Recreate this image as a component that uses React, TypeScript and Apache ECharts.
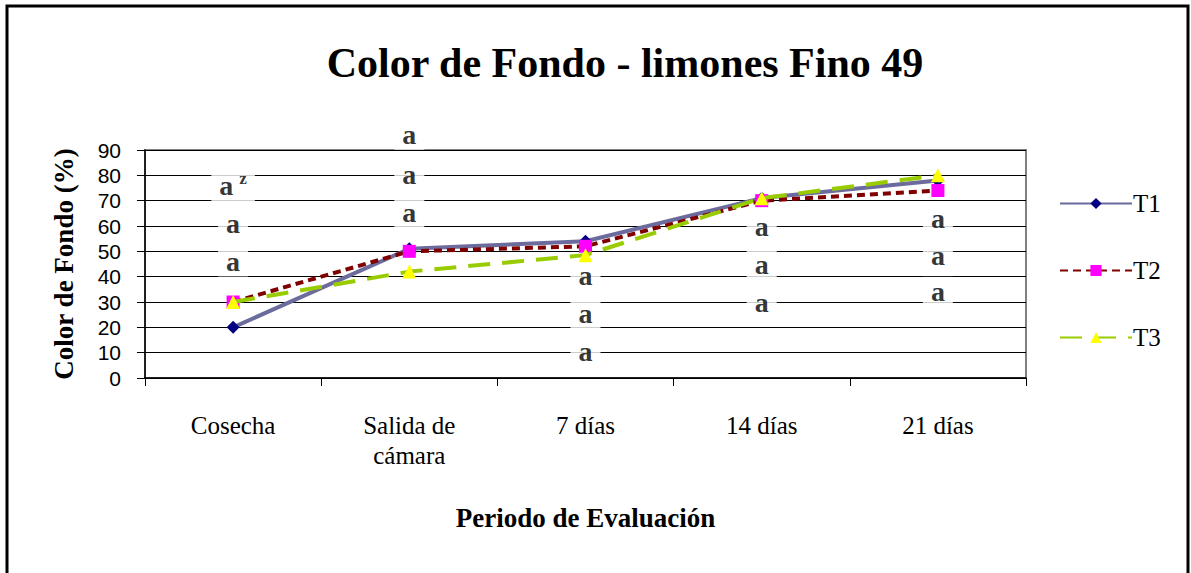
import React, { useEffect, useRef } from "react";
import * as echarts from "echarts";

const categories = ["Cosecha", "Salida de\ncámara", "7 días", "14 días", "21 días"];
const yTicks = [0, 10, 20, 30, 40, 50, 60, 70, 80, 90];
const t1 = [20, 51, 54, 71, 78];
const t2 = [30, 50, 52, 70, 74];
const t3 = [30, 42, 48.5, 71, 80];

// significance letters: [categoryIndex, yValue, text]
const letterCat = [0, 0, 0, 1, 1, 1, 2, 2, 2, 3, 3, 3, 4, 4, 4];
const letterY = [76, 61, 46, 96, 80.5, 65.5, 40.5, 25.5, 10.5, 60, 45, 30, 63, 48.5, 34];
const letterText = ["a^z", "a", "a", "a", "a", "a", "a", "a", "a", "a", "a", "a", "a", "a", "a"];

export default function App() {
  const ref = useRef<HTMLDivElement>(null);
  useEffect(() => {
    document.body.style.margin = "0";
    const chart = echarts.init(ref.current!, null, { renderer: "svg" });
    const serif = "serif";
    const sans = "Liberation Sans";
    const letterData = letterCat.map((c, i) => ({
      value: [c, letterY[i]],
      txt: letterText[i],
    }));
    chart.setOption({
      animation: false,
      backgroundColor: "#fff",
      title: {
        text: "Color de Fondo - limones Fino 49",
        left: 620,
        textAlign: "center",
        top: 37,
        textStyle: { fontFamily: serif, fontWeight: "bold", fontSize: 42, color: "#000" },
      },
      legend: {
        orient: "vertical",
        left: 1054,
        top: 186,
        itemWidth: 72,
        itemHeight: 14,
        itemGap: 42,
        data: ["T1", "T2", "T3"],
        textStyle: { fontFamily: serif, fontSize: 25, color: "#000", padding: [0, 0, 0, -4] },
      },
      grid: {
        left: 145,
        right: 165,
        top: 150,
        bottom: 195,
        show: true,
        borderColor: "#808080",
        borderWidth: 2,
        backgroundColor: "transparent",
      },
      xAxis: {
        type: "category",
        data: categories,
        boundaryGap: true,
        name: "Periodo de Evaluación",
        nameLocation: "middle",
        nameGap: 126,
        nameTextStyle: { fontFamily: serif, fontWeight: "bold", fontSize: 27, color: "#000" },
        axisLine: { lineStyle: { color: "#000", width: 1.5 } },
        axisTick: { show: true, length: 8, alignWithLabel: false, lineStyle: { color: "#000" } },
        axisLabel: {
          fontFamily: serif,
          fontSize: 25,
          color: "#000",
          margin: 32,
          lineHeight: 30,
          interval: 0,
        },
      },
      yAxis: {
        type: "value",
        min: 0,
        max: 90,
        interval: 10,
        name: "Color de Fondo (%)",
        nameLocation: "middle",
        nameGap: 68,
        nameTextStyle: { fontFamily: serif, fontWeight: "bold", fontSize: 27, color: "#000" },
        axisLine: { show: true, lineStyle: { color: "#000", width: 1.5 } },
        axisTick: { show: true, length: 8, lineStyle: { color: "#000" } },
        axisLabel: {
          fontFamily: sans,
          fontSize: 21,
          color: "#000",
          margin: 24,
          formatter: (v: number) => (yTicks.includes(v) ? String(v) : ""),
        },
        splitLine: { show: true, lineStyle: { color: "#000", width: 1 } },
      },
      series: [
        {
          name: "T1",
          type: "line",
          data: t1,
          z: 5,
          symbol: "diamond",
          symbolSize: 13,
          itemStyle: { color: "#000080" },
          lineStyle: { color: "#6B6B9E", width: 4 },
        },
        {
          name: "T2",
          type: "line",
          data: t2,
          z: 6,
          symbol: "rect",
          symbolSize: 13,
          itemStyle: { color: "#FF00FF" },
          lineStyle: { color: "#800000", width: 4, type: [8, 5] },
        },
        {
          name: "T3",
          type: "line",
          data: t3,
          z: 7,
          symbol: "triangle",
          symbolSize: 14,
          itemStyle: { color: "#FFFF00" },
          lineStyle: { color: "#99CC00", width: 4, type: [22, 12] },
        },
        {
          name: "letters",
          type: "scatter",
          data: letterData,
          symbolSize: 0,
          clip: false,
          z: 3,
          silent: true,
          label: {
            show: true,
            position: "inside",
            formatter: (p: any) => (p.data.txt === "a^z" ? "{a|a}{z|z}" : "{a|a}"),
            backgroundColor: "#fff",
            padding: [2, 8, 2, 8],
            rich: {
              a: { fontFamily: serif, fontWeight: "bold", fontSize: 28, color: "#000", lineHeight: 26 },
              z: { fontFamily: serif, fontWeight: "bold", fontSize: 17, color: "#000", verticalAlign: "top", padding: [0, 0, 14, 6] },
            },
          },
        },
      ],
      graphic: [
        {
          type: "rect",
          shape: { x: 7, y: 6, width: 1181, height: 620 },
          style: { fill: "none", stroke: "#000", lineWidth: 3 },
          silent: true,
          z: 100,
        },
      ],
    });
    return () => chart.dispose();
  }, []);
  return <div ref={ref} style={{ width: 1191, height: 573 }} />;
}
